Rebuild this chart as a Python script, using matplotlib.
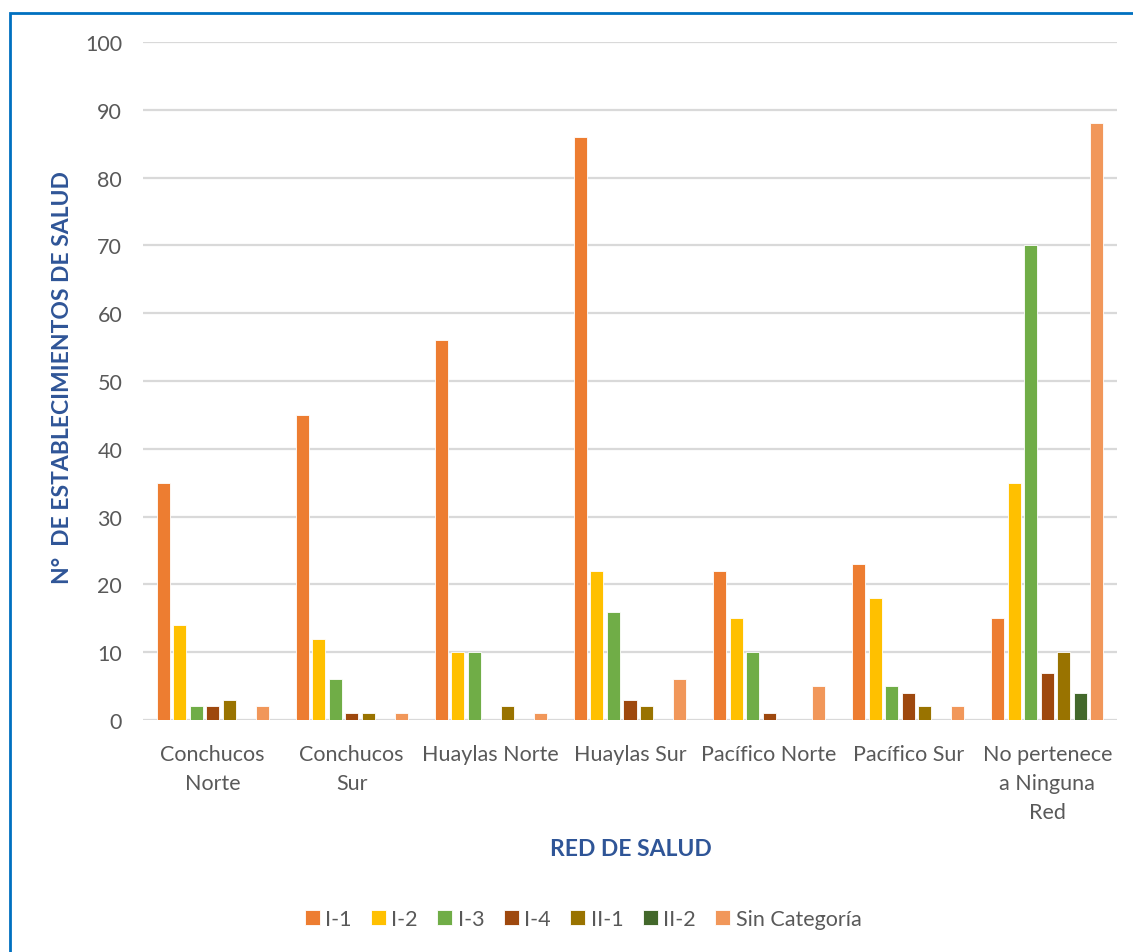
import numpy as np
import matplotlib
matplotlib.use("Agg")
import matplotlib.pyplot as plt
from matplotlib.patches import Rectangle

redes = ["Conchucos\nNorte", "Conchucos\nSur", "Huaylas Norte", "Huaylas Sur",
         "Pacífico Norte", "Pacífico Sur", "No pertenece\na Ninguna\nRed"]
categorias = ["I-1", "I-2", "I-3", "I-4", "II-1", "II-2", "Sin Categoría"]

i_1 = [35, 45, 56, 86, 22, 23, 15]
i_2 = [14, 12, 10, 22, 15, 18, 35]
i_3 = [2, 6, 10, 16, 10, 5, 70]
i_4 = [2, 1, 0, 3, 1, 4, 7]
ii_1 = [3, 1, 2, 2, 0, 2, 10]
ii_2 = [0, 0, 0, 0, 0, 0, 4]
sin_cat = [2, 1, 1, 6, 5, 2, 88]

series = [i_1, i_2, i_3, i_4, ii_1, ii_2, sin_cat]
colores = ["#ED7D31", "#FFC000", "#70AD47", "#9E480E", "#997300", "#43682B", "#F1975A"]

plt.rcParams['font.family'] = ['Lato', 'DejaVu Sans']

fig = plt.figure(figsize=(11.33, 9.53), dpi=100)
ax = fig.add_axes([143/1133, 1 - 721/953, (1117-143)/1133, (721-43)/953])

x = np.arange(len(redes))
paso = 0.1187
ancho = 0.0935
for k, (vals, col) in enumerate(zip(series, colores)):
    ax.bar(x + (k - 3) * paso, vals, width=ancho, color=col,
           edgecolor='white', linewidth=0.6, label=categorias[k], zorder=3)

ax.set_xlim(-0.5, len(redes) - 0.5)
ax.set_ylim(0, 100)
ax.set_yticks(range(0, 101, 10))
ax.yaxis.grid(True, color='#D9D9D9', linewidth=1.6, zorder=0)
ax.set_axisbelow(True)
for s in ax.spines.values():
    s.set_visible(False)
ax.tick_params(axis='both', length=0, labelsize=15.5, labelcolor='#595959')
ax.tick_params(axis='y', pad=15)
ax.tick_params(axis='x', pad=17)
ax.set_xticks(x)
ax.set_xticklabels(redes, linespacing=1.56)

fig.text(63/1133, 1 - 378/953, "N°  DE ESTABLECIMIENTOS DE SALUD", rotation=90,
         ha='center', va='center', fontsize=16.5, fontweight='bold', color='#2F5597')
fig.text(631/1133, 1 - 850/953, "RED DE SALUD", ha='center', va='center',
         fontsize=16.5, fontweight='bold', color='#2F5597')

fig.legend(loc='center', bbox_to_anchor=(583/1133, 1 - 920/953), ncol=7,
           frameon=False, fontsize=15.5, labelcolor='#595959',
           handlelength=0.7, handleheight=0.7, handletextpad=0.25, columnspacing=0.9)

fig.patches.append(Rectangle((10/1133, -0.1), 1.2, 1 - 14/953 + 0.1,
                             transform=fig.transFigure, fill=False,
                             edgecolor='#0070C0', linewidth=2))

fig.savefig("out.png", dpi=100)
